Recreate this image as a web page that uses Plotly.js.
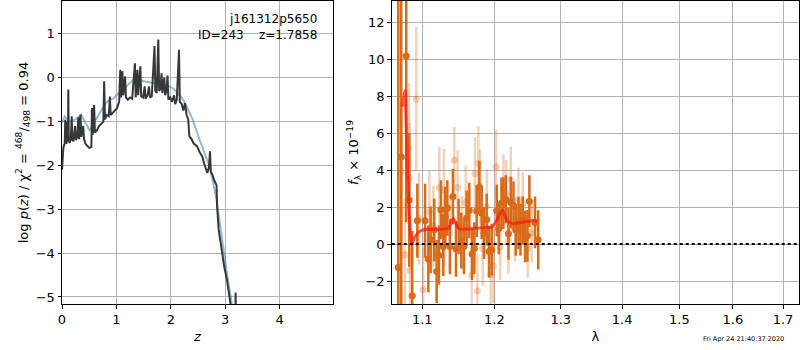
<!DOCTYPE html>
<html><head><meta charset="utf-8">
<script src="https://cdn.plot.ly/plotly-3.0.1.min.js"></script>
<style>html,body{margin:0;padding:0;background:#fff}#chart{width:800px;height:350px}</style>
</head><body><div id="chart"></div>
<script>
// Left panel: log p(z)
const pzZ = [0.000,0.010,0.025,0.040,0.050,0.060,0.070,0.085,0.100,0.110,0.116,0.125,0.140,0.160,0.178,0.190,0.210,0.240,0.255,0.280,0.300,0.315,0.340,0.355,0.390,0.405,0.430,0.460,0.500,0.540,0.550,0.565,0.590,0.605,0.640,0.680,0.720,0.760,0.775,0.790,0.820,0.860,0.880,0.895,0.930,0.970,1.010,1.050,1.070,1.085,1.110,1.125,1.160,1.175,1.210,1.250,1.290,1.340,1.355,1.385,1.400,1.440,1.455,1.490,1.520,1.535,1.570,1.600,1.615,1.650,1.700,1.715,1.740,1.770,1.785,1.810,1.830,1.845,1.880,1.895,1.920,1.940,1.955,1.990,2.020,2.060,2.080,2.110,2.150,2.165,2.200,2.230,2.260,2.290,2.320,2.340,2.380,2.420,2.480,2.530,2.580,2.610,2.650,2.670,2.700,2.720,2.735,2.760,2.800,2.840,2.850,2.880,2.920,2.940,2.980,3.030,3.060,3.090,3.110,3.150,3.185,3.190,3.195,3.250];
const pzLog = [-2.10,-1.87,-1.60,-1.53,-1.50,-0.96,-1.48,-1.50,-1.00,-1.45,-0.27,-1.45,-1.48,-1.42,-0.88,-1.40,-1.45,-1.10,-1.42,-1.35,-0.90,-1.40,-0.84,-1.35,-1.10,-1.40,-1.50,-1.55,-1.60,-1.58,-0.69,-1.30,-0.62,-1.25,-1.20,-1.10,-1.05,-1.00,-0.08,-0.95,-0.85,-0.88,-0.43,-0.85,-0.80,-0.75,-0.70,-0.55,0.18,-0.45,0.15,-0.40,0.03,-0.45,-0.50,-0.45,-0.48,0.33,-0.45,0.18,-0.40,0.26,-0.42,-0.45,-0.20,-0.48,-0.40,-0.20,-0.45,-0.42,0.72,-0.30,-0.35,0.87,-0.30,-0.25,0.10,-0.35,0.00,-0.40,-0.30,0.05,-0.50,-0.45,-0.55,-0.40,-0.60,-0.50,0.64,-0.55,-0.60,-0.75,-0.58,-0.85,-0.95,-1.33,-1.40,-1.50,-1.56,-1.70,-1.80,-1.95,-2.10,-2.17,-2.05,-1.68,-2.15,-2.20,-2.35,-2.45,-2.93,-3.47,-3.80,-4.00,-4.30,-4.60,-4.90,-5.15,-5.40,-5.60,-5.50,-4.90,-5.60,-6.00];
const chiZ = [0.00,0.05,0.10,0.15,0.25,0.35,0.42,0.51,0.60,0.70,0.80,0.88,0.95,1.00,1.10,1.20,1.30,1.37,1.50,1.70,1.92,2.05,2.20,2.29,2.40,2.53,2.62,2.72,2.84,2.94,3.03,3.12,3.20];
const chiLog = [-1.03,-0.88,-0.95,-1.00,-0.95,-0.84,-1.00,-1.21,-1.00,-0.80,-0.58,-0.50,-0.47,-0.40,-0.30,-0.18,-0.06,-0.02,-0.08,-0.13,-0.17,-0.25,-0.45,-0.65,-0.95,-1.42,-1.70,-2.05,-2.78,-3.70,-4.45,-5.15,-5.80];

// Right panel: spectrum
const darkLam = [1.0686,1.0724,1.0789,1.0828,1.0867,1.0934,1.1036,1.1080,1.1111,1.1160,1.1192,1.1223,1.1250,1.1282,1.1309,1.1337,1.1373,1.1414,1.1456,1.1493,1.1530,1.1567,1.1604,1.1642,1.1680,1.1713,1.1746,1.1784,1.1817,1.1850,1.1889,1.1922,1.1961,1.2034,1.2063,1.2102,1.2131,1.2166,1.2205,1.2240,1.2279,1.2313,1.2353,1.2383,1.2417,1.2452,1.2487,1.2517,1.2603,1.2651];
const darkFlux = [-1.26,4.72,10.18,2.38,-2.79,1.26,1.26,-0.80,0.23,0.77,-1.48,-0.60,1.86,-0.13,1.50,1.95,-0.13,2.58,-0.27,0.95,0.20,-0.13,1.40,1.82,-0.54,-0.22,1.78,3.08,1.68,0.60,1.32,-0.40,-0.30,1.82,0.85,2.20,2.22,2.43,0.56,2.25,2.09,0.77,1.13,0.77,1.28,0.41,0.45,2.32,1.17,0.23];
const darkErr = [15,9,9,3.6,3.5,2.0,2.0,1.8,1.8,1.7,1.7,1.6,1.6,1.6,1.6,1.5,1.5,1.5,1.5,1.5,1.5,1.5,1.5,1.5,1.4,1.4,1.4,1.4,1.4,1.4,1.4,1.4,1.4,1.4,1.4,1.4,1.4,1.3,1.4,1.4,1.3,1.4,1.4,1.4,1.3,1.4,1.4,1.4,1.4,1.6];
const lightLam = [1.0728,1.0772,1.0824,1.0832,1.0837,1.0920,1.0956,1.1013,1.1094,1.1147,1.1228,1.1291,1.1305,1.1373,1.1433,1.1479,1.1540,1.1591,1.1675,1.1722,1.1756,1.1770,1.1794,1.1832,1.1889,1.1947,1.1986,1.2024,1.2083,1.2131,1.2171,1.2205,1.2240,1.2303,1.2353,1.2417,1.2492,1.2553];
const lightFlux = [3.93,-0.58,5.20,3.57,-1.42,7.85,1.39,-2.47,1.75,0.95,3.06,2.94,0.77,0.60,4.54,3.08,0.60,2.25,-1.66,3.80,-2.52,4.38,3.12,-0.25,2.04,-1.66,-1.20,4.18,-0.16,3.08,2.76,0.20,3.48,0.77,2.43,2.18,-0.22,0.63];
const lightErr = [4,3,3.5,3,2.5,3.9,2.5,2.3,2.2,2.2,2.2,2.2,2.0,2.0,1.8,2.0,2.0,2.0,2.0,2.0,2.0,2.0,2.0,2.0,2.0,2.0,2.0,2.0,1.8,1.8,1.8,1.8,1.8,1.7,1.7,1.7,1.6,1.6];
const modelLam = [1.0741,1.0772,1.0793,1.0824,1.0859,1.0902,1.0968,1.1058,1.1238,1.1352,1.1421,1.1490,1.1536,1.1889,1.1961,1.2034,1.2117,1.2181,1.2255,1.2428,1.2580,1.2641];
const modelFlux = [7.44,8.30,5.60,2.00,-0.05,0.40,0.70,0.80,0.80,0.85,1.40,0.85,0.80,0.90,0.90,1.30,1.85,1.30,1.10,1.20,1.28,1.25];

const xTicksR = [1.1,1.2,1.3,1.4,1.5,1.6,1.7];
const xTickTextR = ['1.1','1.2','1.3','1.4','1.5','1.6','1.7'];

const orange = 'rgb(217,106,24)';
const orangeLight = 'rgba(217,106,24,0.3)';

const traces = [
  {x: chiZ, y: chiLog, mode:'lines', line:{color:'rgba(31,119,180,0.5)', width:2}, xaxis:'x', yaxis:'y', hoverinfo:'skip'},
  {x: pzZ, y: pzLog, mode:'lines', line:{color:'rgb(55,55,55)', width:2}, xaxis:'x', yaxis:'y', hoverinfo:'skip'},
  {x: lightLam, y: lightFlux, mode:'markers', marker:{color:orangeLight, size:7},
   error_y:{type:'data', array:lightErr, visible:true, color:orangeLight, thickness:2.5, width:0}, xaxis:'x2', yaxis:'y2'},
  {x: darkLam, y: darkFlux, mode:'markers', marker:{color:orange, size:7},
   error_y:{type:'data', array:darkErr, visible:true, color:orange, thickness:2.5, width:0}, xaxis:'x2', yaxis:'y2'},
  {x: modelLam, y: modelFlux, mode:'lines', line:{color:'rgba(255,20,20,0.7)', width:3, shape:'spline', smoothing:0.5}, xaxis:'x2', yaxis:'y2'}
];

const tickFont = {family:'DejaVu Sans', size:13, color:'#000'};
const axBase = {showline:true, linecolor:'#000', linewidth:1, mirror:true, ticks:'outside', ticklen:3.5, tickwidth:1, tickcolor:'#000',
  showgrid:true, gridcolor:'#b0b0b0', gridwidth:1, zeroline:false, tickfont:tickFont};

const layout = {
  width:800, height:350, showlegend:false,
  paper_bgcolor:'#fff', plot_bgcolor:'#fff',
  margin:{l:62, r:1, t:1, b:46},
  font:{family:'DejaVu Sans', size:12, color:'#000'},
  xaxis: Object.assign({}, axBase, {domain:[0,0.3677], range:[0,4.98], dtick:1, tick0:0,
    title:{text:'<i>z</i>', font:{size:13}, standoff:5}}),
  yaxis: Object.assign({}, axBase, {range:[-5.16,1.75], dtick:1, tick0:0,
    title:{text:'log <i>p</i>(<i>z</i>) / χ<sup>2</sup> = <sup>468</sup>/<sub>498</sub> = 0.94', font:{size:13}, standoff:4}}),
  xaxis2: Object.assign({}, axBase, {domain:[0.4474,1], anchor:'y2', type:'log', range:[0.02537,0.2388],
    tickvals:xTicksR, ticktext:xTickTextR,
    title:{text:'λ', font:{size:13}, standoff:5}}),
  yaxis2: Object.assign({}, axBase, {anchor:'x2', range:[-3.24,13.15], dtick:2, tick0:0,
    title:{text:'<i>f</i><sub>λ</sub> × 10<sup>−19</sup>', font:{size:13}, standoff:3}}),
  shapes:[{type:'line', xref:'x2 domain', yref:'y2', x0:0, x1:1, y0:0, y1:0, line:{color:'#000', width:2, dash:'dot'}, layer:'above'}],
  annotations:[
    {text:'j161312p5650', xref:'x domain', yref:'y domain', x:0.948, y:0.94, xanchor:'right', yanchor:'middle', showarrow:false, font:{size:12}},
    {text:'ID=243\u00a0\u00a0\u00a0\u00a0z=1.7858', xref:'x domain', yref:'y domain', x:0.948, y:0.888, xanchor:'right', yanchor:'middle', showarrow:false, font:{size:12}},
    {text:'Fri Apr 24 21:40:37 2020', xref:'paper', yref:'paper', x:0.925, y:-0.1155, xanchor:'center', yanchor:'middle', showarrow:false, font:{size:6.5}}
  ]
};

Plotly.newPlot('chart', traces, layout, {staticPlot:true, displayModeBar:false});
</script></body></html>
